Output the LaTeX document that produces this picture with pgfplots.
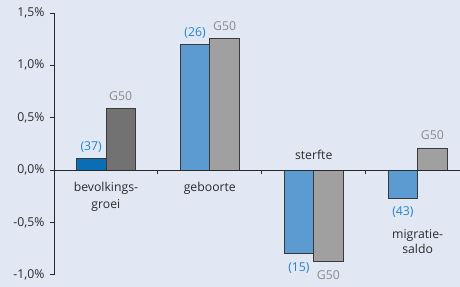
\documentclass[border=0pt]{standalone}
\usepackage{pgfplots}
\pgfplotsset{compat=1.18}
\usepackage{fontspec}
\setmainfont{Open Sans}
\definecolor{bg}{HTML}{E1E8F4}
\definecolor{bluedark}{HTML}{0A6EB6}
\definecolor{bluelight}{HTML}{5C9AD2}
\definecolor{graydark}{HTML}{727272}
\definecolor{graylight}{HTML}{A0A0A0}
\definecolor{edge}{HTML}{3A3A3A}
\definecolor{lblue}{HTML}{2383CC}
\definecolor{lgray}{HTML}{8A8A8A}
\definecolor{txt}{HTML}{2A2A2A}
\begin{document}
\begin{tikzpicture}[font=\fontsize{12.3}{14}\selectfont]
\fill[bg] (0,0) rectangle (460bp,287bp);
\begin{axis}[at={(54bp,12bp)}, anchor=south west, scale only axis,
  width=406bp, height=262bp,
  xmin=-0.5, xmax=3.404, ymin=-1.0, ymax=1.5,
  axis x line*=middle, axis y line*=left,
  axis line style={draw=txt, line width=0.8pt},
  xtick={0.5,1.5,2.5}, xticklabels={},
  ytick={-1,-0.5,0,0.5,1,1.5},
  yticklabels={{-1,0\%},{-0,5\%},{0,0\%},{0,5\%},{1,0\%},{1,5\%}},
  yticklabel style={text=txt, font=\fontsize{12.3}{14}\selectfont, xshift=-2bp},
  tick align=outside, major tick length=4bp,
  tick style={draw=txt, line width=0.8pt},
  axis on top, clip=false,
  every axis plot/.append style={ybar, bar width=29.5bp, draw=edge, line width=0.8pt},
]
\addplot[fill=bluedark, bar shift=-14.75bp] coordinates {(0,0.115)};
\addplot[fill=bluelight, bar shift=-14.75bp] coordinates {(1,1.20) (2,-0.80) (3,-0.27)};
\addplot[fill=graydark, bar shift=14.75bp] coordinates {(0,0.59)};
\addplot[fill=graylight, bar shift=14.75bp] coordinates {(1,1.26) (2,-0.87) (3,0.21)};

\begin{scope}[every node/.style={anchor=base, inner sep=0pt}]
\node[text=lblue, xshift=-14.75bp, yshift=8bp] at (axis cs:0,0.115) {(37)};
\node[text=lgray, xshift=14.75bp, yshift=8bp] at (axis cs:0,0.59) {G50};
\node[text=lblue, xshift=-14.75bp, yshift=8bp] at (axis cs:1,1.20) {(26)};
\node[text=lgray, xshift=14.75bp, yshift=8bp] at (axis cs:1,1.26) {G50};
\node[text=lblue, xshift=-14.75bp, yshift=-17.5bp] at (axis cs:2,-0.80) {(15)};
\node[text=lgray, xshift=14.75bp, yshift=-18.5bp] at (axis cs:2,-0.87) {G50};
\node[text=lblue, xshift=-14.75bp, yshift=-17.5bp] at (axis cs:3,-0.27) {(43)};
\node[text=lgray, xshift=14.75bp, yshift=9bp] at (axis cs:3,0.21) {G50};
\node[text=txt] at (axis cs:0,-0.205) {bevolkings-};
\node[text=txt] at (axis cs:0,-0.365) {groei};
\node[text=txt] at (axis cs:1,-0.205) {geboorte};
\node[text=txt] at (axis cs:2,0.105) {sterfte};
\node[text=txt] at (axis cs:3,-0.652) {migratie-};
\node[text=txt] at (axis cs:3,-0.795) {saldo};
\end{scope}
\end{axis}
\end{tikzpicture}
\end{document}
